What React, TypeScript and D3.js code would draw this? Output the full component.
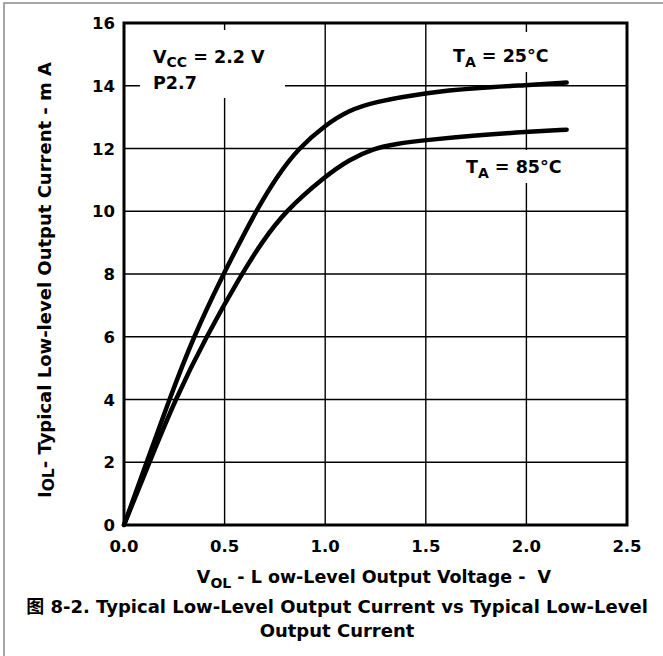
import { useEffect, useRef } from 'react'
import * as d3 from 'd3'

// curve readings: [V_OL (V), I_OL (mA)]
const curve25: [number, number][] = [
  [0, 0], [0.11, 1.95], [0.225, 4], [0.345, 6], [0.494, 8], [0.575, 9], [0.656, 10],
  [0.759, 11.1], [0.866, 12], [1.0, 12.75], [1.12, 13.22], [1.24, 13.48], [1.5, 13.78],
  [1.75, 13.93], [2.0, 14.02], [2.2, 14.1],
]
const curve85: [number, number][] = [
  [0, 0], [0.12, 1.9], [0.254, 4], [0.408, 6], [0.585, 8], [0.684, 9], [0.8, 10],
  [1.0, 11.12], [1.12, 11.65], [1.24, 12.0], [1.35, 12.15], [1.5, 12.27], [1.75, 12.42],
  [2.0, 12.53], [2.2, 12.6],
]
const xTicks = [0, 0.5, 1.0, 1.5, 2.0, 2.5]
const yTicks = [0, 2, 4, 6, 8, 10, 12, 14, 16]

const W = 663
const H = 656
const FONT = '"DejaVu Sans", "Noto Sans CJK SC", sans-serif'

export default function App() {
  const ref = useRef<SVGSVGElement>(null)

  useEffect(() => {
    if (!ref.current) return
    d3.select(ref.current).selectAll('*').remove()
    render(ref.current)
  }, [])

  return (
    <svg
      ref={ref}
      width={W}
      height={H}
      style={{ position: 'absolute', left: 0, top: 0, background: '#fff' }}
    />
  )
}

function render(el: SVGSVGElement) {
  const svg = d3.select(el).style('font-family', FONT).attr('font-weight', 'bold')
  const plot = { left: 124, right: 627, top: 23, bottom: 525 }

  const x = d3.scaleLinear().domain([0, 2.5]).range([plot.left, plot.right])
  const y = d3.scaleLinear().domain([0, 16]).range([plot.bottom, plot.top])

  // outer frame
  svg.append('rect')
    .attr('x', 4).attr('y', 3).attr('width', 720).attr('height', 720)
    .attr('fill', 'none').attr('stroke', '#8a8a8a').attr('stroke-width', 1.5)

  // grid
  const grid = svg.append('g').attr('stroke', '#000').attr('stroke-width', 1.4)
  xTicks.slice(1, -1).forEach((t) => {
    grid.append('line').attr('x1', x(t)).attr('x2', x(t)).attr('y1', plot.top).attr('y2', plot.bottom)
  })
  yTicks.slice(1, -1).forEach((t) => {
    grid.append('line').attr('x1', plot.left).attr('x2', plot.right).attr('y1', y(t)).attr('y2', y(t))
  })

  // white patches behind annotations
  const patches = [
    { x: 140, y: 30, w: 145, h: 68 },
    { x: 450, y: 32, w: 100, h: 40 },
    { x: 462, y: 150, w: 102, h: 33 },
  ]
  patches.forEach((p) => {
    svg.append('rect').attr('x', p.x).attr('y', p.y).attr('width', p.w).attr('height', p.h).attr('fill', '#fff')
  })

  // curves
  const line = d3.line<[number, number]>()
    .x((d) => x(d[0]))
    .y((d) => y(d[1]))
    .curve(d3.curveBasis)
  ;[curve25, curve85].forEach((c) => {
    svg.append('path')
      .attr('d', line(c))
      .attr('fill', 'none')
      .attr('stroke', '#000')
      .attr('stroke-width', 4.5)
      .attr('stroke-linecap', 'round')
  })

  // plot frame
  svg.append('rect')
    .attr('x', plot.left).attr('y', plot.top)
    .attr('width', plot.right - plot.left).attr('height', plot.bottom - plot.top)
    .attr('fill', 'none').attr('stroke', '#000').attr('stroke-width', 3)

  // tick labels
  yTicks.forEach((t) => {
    svg.append('text')
      .attr('x', 115).attr('y', y(t) + 6)
      .attr('text-anchor', 'end').attr('font-size', 16.5)
      .text(t)
  })
  xTicks.forEach((t) => {
    svg.append('text')
      .attr('x', x(t)).attr('y', 552)
      .attr('text-anchor', 'middle').attr('font-size', 16.5)
      .text(t.toFixed(1))
  })

  // annotations
  const vcc = svg.append('text').attr('x', 153).attr('y', 63).attr('font-size', 17.5)
  vcc.append('tspan').text('V')
  vcc.append('tspan').attr('font-size', 14).attr('dy', 4).text('CC')
  vcc.append('tspan').attr('dy', -4).text(' = 2.2 V')
  svg.append('text').attr('x', 153).attr('y', 89).attr('font-size', 17.5).text('P2.7')

  const ta = (tx: number, ty: number, label: string) => {
    const t = svg.append('text').attr('x', tx).attr('y', ty).attr('font-size', 17.5)
    t.append('tspan').text('T')
    t.append('tspan').attr('font-size', 14).attr('dy', 5).text('A')
    t.append('tspan').attr('dy', -5).text(` = ${label}`)
  }
  ta(453, 62, '25°C')
  ta(466, 173, '85°C')

  // x axis title
  const xt = svg.append('text').attr('x', 374).attr('y', 583).attr('text-anchor', 'middle')
    .attr('font-size', 17.5).style('white-space', 'pre')
  xt.append('tspan').text('V')
  xt.append('tspan').attr('font-size', 14).attr('dy', 5).text('OL')
  xt.append('tspan').attr('dy', -5).text(' - L ow-Level Output Voltage -  V')

  // y axis title
  const yt = svg.append('text')
    .attr('transform', `translate(51,${(plot.top + plot.bottom) / 2 + 6}) rotate(-90)`)
    .attr('text-anchor', 'middle').attr('font-size', 18)
  yt.append('tspan').text('I')
  yt.append('tspan').attr('font-size', 15.5).attr('dy', 3).text('OL')
  yt.append('tspan').attr('dy', -3).text('- Typical Low-level Output Current - m A')

  // caption
  const cap = svg.append('text').attr('text-anchor', 'middle').attr('font-size', 18)
  cap.append('tspan').attr('x', 337).attr('y', 613)
    .text('图 8-2. Typical Low-Level Output Current vs Typical Low-Level')
  cap.append('tspan').attr('x', 337).attr('y', 637).text('Output Current')
}
